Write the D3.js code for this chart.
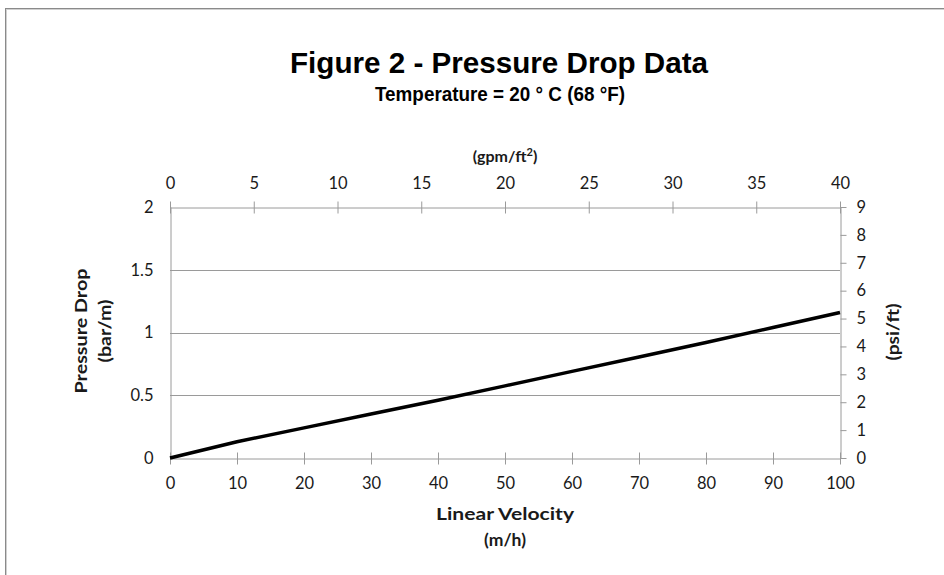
<!DOCTYPE html>
<html>
<head>
<meta charset="utf-8">
<script src="https://cdn.jsdelivr.net/npm/d3@7"></script>
<style>
  html, body { margin: 0; padding: 0; background: #fff; }
  svg { display: block; }
</style>
</head>
<body>
<svg id="chart" width="944" height="575"></svg>
<script>
// ---- Data ----
const velocity = [0, 10, 20, 30, 40, 50, 60, 70, 80, 90, 100];              // m/h
const pressureDrop = [0, 0.13, 0.24, 0.35, 0.46, 0.575, 0.69, 0.805, 0.92, 1.04, 1.16]; // bar/m
const bottomTicks = [0, 10, 20, 30, 40, 50, 60, 70, 80, 90, 100];
const topTicks = [0, 5, 10, 15, 20, 25, 30, 35, 40];          // gpm/ft2
const leftTicks = [0, 0.5, 1, 1.5, 2];                        // bar/m
const rightTicks = [0, 1, 2, 3, 4, 5, 6, 7, 8, 9];            // psi/ft

const svg = d3.select("#chart");

// frame
svg.append("rect").attr("x", 5.5).attr("y", 8.5).attr("width", 960).attr("height", 600)
  .attr("fill", "none").attr("stroke", "#8a8a8a").attr("stroke-width", 1);
svg.append("rect").attr("x", 6.5).attr("y", 9.5).attr("width", 960).attr("height", 600)
  .attr("fill", "none").attr("stroke", "#d0d0d0").attr("stroke-width", 1);

const L = 170, R = 840, T = 207, B = 458;
const x = d3.scaleLinear().domain([0, 100]).range([L, R]);
const xTop = d3.scaleLinear().domain([0, 40]).range([L, R]);
const y = d3.scaleLinear().domain([0, 2]).range([B, T]);
const yR = d3.scaleLinear().domain([0, 9]).range([B, T]);

const axisColor = "#9a9a9a";
const tickFont = "Lato, 'Open Sans', sans-serif";
const labelColor = "#1a1a1a";

// gridlines
svg.append("g").selectAll("line").data(leftTicks.filter(d => d > 0 && d < 2)).join("line")
  .attr("x1", L).attr("x2", R).attr("y1", d => Math.round(y(d)) + 0.5).attr("y2", d => Math.round(y(d)) + 0.5)
  .attr("stroke", axisColor).attr("stroke-width", 1);

function styleAxis(g) {
  g.selectAll(".domain").attr("stroke", axisColor);
  g.selectAll(".tick line").attr("stroke", axisColor);
  g.selectAll(".tick text").attr("fill", labelColor).attr("font-family", tickFont).attr("font-size", 16.5);
}

// bottom axis (ticks crossing)
const gB = svg.append("g").attr("transform", `translate(0,${B + 0.5})`)
  .call(d3.axisBottom(x).tickValues(bottomTicks).tickSizeInner(6).tickSizeOuter(0).tickPadding(13));
gB.selectAll(".tick line").attr("y1", -6);
styleAxis(gB);

// top axis (ticks crossing)
const gT = svg.append("g").attr("transform", `translate(0,${T + 0.5})`)
  .call(d3.axisTop(xTop).tickValues(topTicks).tickSizeInner(6).tickSizeOuter(0).tickPadding(13));
gT.selectAll(".tick line").attr("y1", 6);
styleAxis(gT);

// left axis (no tick marks)
const gL = svg.append("g").attr("transform", `translate(${L + 0.5},0)`)
  .call(d3.axisLeft(y).tickValues(leftTicks).tickSize(0).tickPadding(17).tickFormat(d => String(d)));
styleAxis(gL);

// right axis (outward ticks)
const gR = svg.append("g").attr("transform", `translate(${R + 0.5},0)`)
  .call(d3.axisRight(yR).tickValues(rightTicks).tickSizeInner(6).tickSizeOuter(0).tickPadding(10));
styleAxis(gR);

// data line
const line = d3.line().x((d, i) => x(velocity[i])).y(d => y(d));
svg.append("path").datum(pressureDrop).attr("d", line)
  .attr("fill", "none").attr("stroke", "#000").attr("stroke-width", 3.5)
  .attr("stroke-linejoin", "round").attr("stroke-linecap", "butt");

// titles
svg.append("text").attr("x", 499).attr("y", 73).attr("text-anchor", "middle")
  .attr("font-family", "'Liberation Sans', Arial, sans-serif").attr("font-weight", "bold")
  .attr("font-size", 29).attr("fill", "#000")
  .attr("textLength", 418).attr("lengthAdjust", "spacingAndGlyphs")
  .text("Figure 2 - Pressure Drop Data");
svg.append("text").attr("x", 500).attr("y", 101).attr("text-anchor", "middle")
  .attr("font-family", "'Liberation Sans Narrow', 'Liberation Sans', Arial, sans-serif").attr("font-weight", "bold")
  .attr("font-size", 20).attr("fill", "#000")
  .attr("textLength", 250).attr("lengthAdjust", "spacingAndGlyphs")
  .text("Temperature  = 20 ° C (68 °F)");

const axisTitleFont = "Lato, 'Open Sans', sans-serif";
// top axis title
const tt = svg.append("text").attr("x", 505).attr("y", 162).attr("text-anchor", "middle")
  .attr("font-family", axisTitleFont).attr("font-weight", "bold").attr("font-size", 16).attr("fill", labelColor);
tt.append("tspan").text("(gpm/ft");
tt.append("tspan").attr("font-size", 11).attr("dy", -6).text("2");
tt.append("tspan").attr("dy", 6).text(")");

// bottom titles
svg.append("text").attr("x", 505).attr("y", 520).attr("text-anchor", "middle")
  .attr("font-family", axisTitleFont).attr("font-weight", "bold").attr("font-size", 17).attr("fill", labelColor)
  .attr("textLength", 138).attr("lengthAdjust", "spacingAndGlyphs")
  .text("Linear Velocity");
svg.append("text").attr("x", 505).attr("y", 546).attr("text-anchor", "middle")
  .attr("font-family", axisTitleFont).attr("font-weight", "bold").attr("font-size", 17).attr("fill", labelColor)
  .attr("textLength", 42).attr("lengthAdjust", "spacingAndGlyphs")
  .text("(m/h)");

// left titles
svg.append("text").attr("transform", "translate(87,331) rotate(-90)").attr("text-anchor", "middle")
  .attr("font-family", axisTitleFont).attr("font-weight", "bold").attr("font-size", 17).attr("fill", labelColor)
  .attr("textLength", 125).attr("lengthAdjust", "spacingAndGlyphs")
  .text("Pressure Drop");
svg.append("text").attr("transform", "translate(111,331) rotate(-90)").attr("text-anchor", "middle")
  .attr("font-family", axisTitleFont).attr("font-weight", "bold").attr("font-size", 17).attr("fill", labelColor)
  .attr("textLength", 63).attr("lengthAdjust", "spacingAndGlyphs")
  .text("(bar/m)");

// right title
svg.append("text").attr("transform", "translate(899,332) rotate(-90)").attr("text-anchor", "middle")
  .attr("font-family", axisTitleFont).attr("font-weight", "bold").attr("font-size", 17).attr("fill", labelColor)
  .attr("textLength", 57).attr("lengthAdjust", "spacingAndGlyphs")
  .text("(psi/ft)");
</script>
</body>
</html>
